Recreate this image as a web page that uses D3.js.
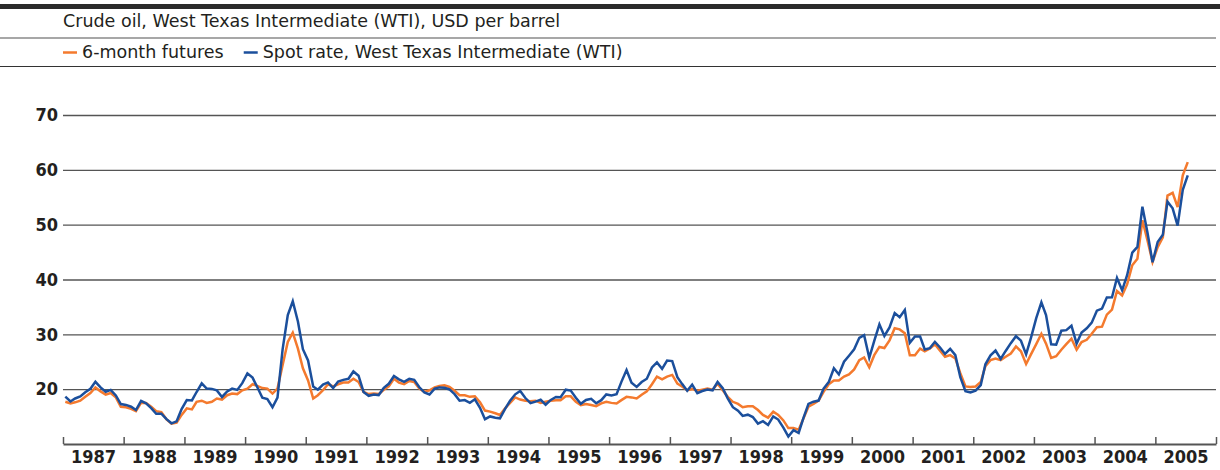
<!DOCTYPE html>
<html>
<head>
<meta charset="utf-8">
<script src="https://cdn.jsdelivr.net/npm/d3@7"></script>
<style>
  body { margin: 0; background: #fff; }
  svg { display: block; }
  text { fill: #231f20; }
</style>
</head>
<body>
<svg id="chart" width="1220" height="470"></svg>
<script>
// Chart size
const WIDTH = 1220;
const HEIGHT = 470;

const TITLE = "Crude oil, West Texas Intermediate (WTI), USD per barrel";
const seriesNames = ["6-month futures", "Spot rate, West Texas Intermediate (WTI)"];
const seriesColors = ["#f47a2e", "#1b4f9c"];

// monthly, Jan 1987 .. Jul 2005
const startYear = 1987;
const yearLabels = [1987, 1988, 1989, 1990, 1991, 1992, 1993, 1994, 1995, 1996,
    1997, 1998, 1999, 2000, 2001, 2002, 2003, 2004, 2005];
const yTicks = [20, 30, 40, 50, 60, 70];

const spot = [
    18.65, 17.75, 18.30, 18.68, 19.44, 20.07, 21.34, 20.31, 19.53, 19.86, 18.85, 17.28,
    17.13, 16.80, 16.20, 17.86, 17.42, 16.53, 15.50, 15.52, 14.54, 13.77, 14.14, 16.38,
    18.02, 17.94, 19.48, 21.07, 20.12, 20.05, 19.78, 18.58, 19.59, 20.10, 19.86, 21.10,
    22.86, 22.11, 20.39, 18.43, 18.20, 16.70, 18.45, 27.31, 33.51, 36.04, 32.33, 27.28,
    25.23, 20.48, 19.90, 20.83, 21.23, 20.19, 21.40, 21.69, 21.89, 23.23, 22.46, 19.50,
    18.79, 19.01, 18.92, 20.23, 20.98, 22.39, 21.78, 21.34, 21.88, 21.69, 20.34, 19.41,
    19.03, 20.09, 20.32, 20.25, 19.95, 19.09, 17.89, 18.01, 17.50, 18.15, 16.61, 14.52,
    15.03, 14.78, 14.68, 16.42, 17.89, 19.06, 19.66, 18.38, 17.45, 17.72, 18.07, 17.16,
    18.04, 18.57, 18.54, 19.90, 19.74, 18.45, 17.33, 18.02, 18.23, 17.43, 17.99, 19.03,
    18.85, 19.09, 21.33, 23.50, 21.17, 20.42, 21.30, 21.90, 23.97, 24.88, 23.71, 25.23,
    25.13, 22.18, 20.97, 19.70, 20.82, 19.26, 19.66, 19.95, 19.80, 21.33, 20.19, 18.33,
    16.72, 16.06, 15.12, 15.35, 14.91, 13.72, 14.17, 13.47, 15.03, 14.46, 13.00, 11.35,
    12.52, 12.01, 14.68, 17.31, 17.72, 17.92, 20.10, 21.28, 23.80, 22.69, 25.00, 26.10,
    27.26, 29.37, 29.84, 25.72, 28.79, 31.82, 29.70, 31.26, 33.88, 33.11, 34.42, 28.44,
    29.59, 29.61, 27.24, 27.49, 28.63, 27.60, 26.43, 27.37, 26.20, 22.17, 19.64, 19.39,
    19.72, 20.72, 24.53, 26.18, 27.04, 25.52, 26.97, 28.39, 29.66, 28.84, 26.35, 29.46,
    32.95, 35.83, 33.51, 28.17, 28.11, 30.66, 30.76, 31.57, 28.31, 30.34, 31.11, 32.13,
    34.31, 34.69, 36.74, 36.75, 40.28, 38.03, 40.78, 44.90, 45.94, 53.28, 48.47, 43.15,
    46.84, 48.15, 54.19, 52.98, 49.83, 56.35, 59.00
];

const futures = [
    17.7, 17.4, 17.6, 17.9, 18.6, 19.3, 20.3, 19.6, 19.0, 19.3, 18.5, 16.8,
    16.7, 16.4, 16.0, 17.5, 17.5, 16.8, 16.0, 15.8, 14.5, 13.7, 13.9, 15.3,
    16.5, 16.3, 17.7, 17.9, 17.5, 17.7, 18.3, 18.1, 18.9, 19.2, 19.1, 19.8,
    20.1, 20.9, 20.6, 20.2, 20.1, 19.2, 20.1, 24.4, 28.6, 30.3, 27.4, 23.8,
    21.6, 18.3, 18.9, 19.8, 20.9, 20.5, 20.9, 21.2, 21.2, 21.9, 21.3, 19.5,
    19.1, 19.2, 19.1, 19.9, 20.5, 21.9, 21.2, 20.9, 21.5, 21.3, 20.1, 19.5,
    19.8, 20.3, 20.6, 20.7, 20.4, 19.7, 18.9, 18.9, 18.6, 18.7, 17.6, 16.1,
    15.9, 15.6, 15.3, 16.5, 17.5, 18.5, 18.1, 17.9, 17.8, 17.9, 17.5, 17.7,
    17.9, 18.0, 18.0, 18.7, 18.7, 17.7, 17.1, 17.3, 17.1, 16.9, 17.4, 17.7,
    17.5, 17.4, 18.0, 18.6, 18.5, 18.3, 19.0, 19.6, 20.9, 22.3, 21.8, 22.3,
    22.6, 21.0, 20.5, 19.8, 20.0, 19.7, 19.9, 20.1, 19.9, 21.0, 19.8, 18.6,
    17.7, 17.3, 16.7, 16.9, 16.9, 16.2, 15.3, 14.8, 15.9, 15.3, 14.3, 12.9,
    12.9, 12.6, 14.6, 16.8, 17.3, 17.9, 19.5, 20.9, 21.6, 21.6, 22.3, 22.7,
    23.6, 25.3, 25.8, 24.0, 26.2, 27.7, 27.5, 28.9, 31.1, 30.9, 30.2, 26.2,
    26.2, 27.4, 26.9, 27.4, 28.2, 27.0, 25.9, 26.2, 25.6, 22.9, 20.5, 20.4,
    20.5, 21.3, 24.2, 25.3, 25.6, 25.3, 25.9, 26.5, 27.8, 26.9, 24.6, 26.4,
    28.2, 30.1, 28.3, 25.7, 26.0, 27.2, 28.2, 29.2, 27.2, 28.6, 29.0, 30.1,
    31.3, 31.4, 33.6, 34.5, 37.9, 37.1, 39.1, 42.6, 43.8, 50.8, 47.1, 43.2,
    45.9, 47.7, 55.3, 55.8, 53.2, 59.0, 61.4
];

const dates = spot.map((v, i) => new Date(startYear + Math.floor(i / 12), i % 12, 15));

const svg = d3.select('#chart');

const LABEL_FONT = '"DejaVu Sans Condensed", "DejaVu Sans", sans-serif';
const HEAD_FONT = '"DejaVu Sans", sans-serif';

// Header: thick bar, title, legend, rules
svg.append('rect')
    .attr('x', 0).attr('y', 4)
    .attr('width', WIDTH).attr('height', 5)
    .attr('fill', '#2b2b2b');

svg.append('text')
    .attr('x', 63).attr('y', 27)
    .style('font-family', HEAD_FONT)
    .style('font-size', '17.5px')
    .text(TITLE);

svg.append('line')
    .attr('x1', 0).attr('x2', 1216)
    .attr('y1', 38).attr('y2', 38)
    .attr('stroke', '#8a8a8a').attr('stroke-width', 1.5);

let legendX = 63;
seriesNames.forEach((name, i) => {
    svg.append('line')
        .attr('x1', legendX).attr('x2', legendX + 14)
        .attr('y1', 52.5).attr('y2', 52.5)
        .attr('stroke', seriesColors[i]).attr('stroke-width', 2.5);
    let t = svg.append('text')
        .attr('x', legendX + 19).attr('y', 58)
        .style('font-family', HEAD_FONT)
        .style('font-size', '17.5px')
        .text(name);
    legendX += 19 + t.node().getComputedTextLength() + 20;
});

svg.append('line')
    .attr('x1', 0).attr('x2', 1216)
    .attr('y1', 66.5).attr('y2', 66.5)
    .attr('stroke', '#333').attr('stroke-width', 1);

// Scales
const x = d3.scaleTime()
    .domain([new Date(1987, 0, 1), new Date(2006, 0, 1)])
    .range([63, 1216]);

const y = d3.scaleLinear()
    .domain([10, 70])
    .range([444, 115]);

// Gridlines + y labels
const grid = svg.append('g')
    .attr('transform', 'translate(63,0)')
    .call(d3.axisLeft(y)
        .tickValues(yTicks)
        .tickSize(-(1216 - 63))
        .tickPadding(5));
grid.select('.domain').remove();
grid.selectAll('.tick line')
    .attr('stroke', '#555').attr('stroke-width', 1.3);
grid.selectAll('.tick text')
    .style('font-family', LABEL_FONT)
    .style('font-size', '18px')
    .style('font-weight', 'bold')
    .attr('fill', '#231f20');

// Lines
const line = d3.line()
    .x((d, i) => x(dates[i]))
    .y(d => y(d));

[futures, spot].forEach((values, i) => {
    svg.append('path')
        .datum(values)
        .attr('fill', 'none')
        .attr('stroke', seriesColors[i])
        .attr('stroke-width', 2.5)
        .attr('stroke-linejoin', 'miter')
        .attr('d', line);
});

// X axis: ticks at year boundaries, labels at mid-year
const yearTicks = d3.range(1987, 2007).map(yr => new Date(yr, 0, 1));
const xAxis = svg.append('g')
    .attr('transform', 'translate(0,444)')
    .call(d3.axisBottom(x)
        .tickValues(yearTicks)
        .tickSize(-7)
        .tickSizeOuter(0)
        .tickFormat(''));
xAxis.select('.domain').attr('stroke', '#555').attr('stroke-width', 2);
xAxis.selectAll('.tick line').attr('stroke', '#555').attr('stroke-width', 1.5);

const xLabels = svg.append('g')
    .attr('transform', 'translate(0,444)')
    .call(d3.axisBottom(x)
        .tickValues(yearLabels.map(yr => new Date(yr, 6, 1)))
        .tickSize(0)
        .tickPadding(6)
        .tickFormat(d3.timeFormat('%Y')));
xLabels.select('.domain').remove();
xLabels.selectAll('.tick text')
    .style('font-family', LABEL_FONT)
    .style('font-size', '18px')
    .style('font-weight', 'bold')
    .attr('fill', '#231f20');
</script>
</body>
</html>
